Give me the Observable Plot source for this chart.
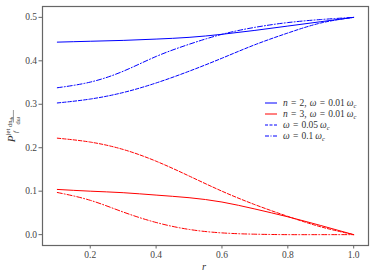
<!DOCTYPE html>
<html><head><meta charset="utf-8">
<script src="https://cdn.jsdelivr.net/npm/d3@7"></script>
<script src="https://cdn.jsdelivr.net/npm/@observablehq/plot@0.6"></script>
<style>body{margin:0;background:#fff} svg text{font-family:'Liberation Serif',Times,serif !important}</style>
</head><body><div id="chart"></div>
<script>
const r = [0.1,0.2,0.3,0.4,0.5,0.6,0.7,0.8,0.9,1.0];
const blueSolid   = [0.443,0.445,0.447,0.450,0.454,0.461,0.470,0.480,0.490,0.500];
const blueDashdot = [0.338,0.351,0.376,0.410,0.438,0.461,0.477,0.488,0.495,0.500];
const blueDashed  = [0.303,0.312,0.327,0.349,0.376,0.406,0.437,0.464,0.487,0.500];
const redSolid    = [0.104,0.100,0.0965,0.091,0.085,0.075,0.059,0.041,0.021,0.000];
const redDashed   = [0.222,0.213,0.196,0.169,0.135,0.100,0.069,0.042,0.018,0.000];
const redDashdot  = [0.097,0.079,0.052,0.028,0.012,0.004,0.001,0.000,0.000,0.000];
const xTicks = [0.2,0.4,0.6,0.8,1.0];
const yTicks = [0.0,0.1,0.2,0.3,0.4,0.5];
const legendLabels = [
  {color:"#0000ff", dash:null, parts:[["n","i"],["\u2004=\u20042,\u2004",""],["ω","i"],["\u2004=\u20040.01\u2009",""],["ω","i"],["c","sub"]]},
  {color:"#ff0000", dash:null, parts:[["n","i"],["\u2004=\u20043,\u2004",""],["ω","i"],["\u2004=\u20040.01\u2009",""],["ω","i"],["c","sub"]]},
  {color:"#0000ff", dash:"3,1.5", parts:[["ω","i"],["\u2004=\u20040.05\u2009",""],["ω","i"],["c","sub"]]},
  {color:"#0000ff", dash:"4,1.5,1,1.5", parts:[["ω","i"],["\u2004=\u20040.1\u2009",""],["ω","i"],["c","sub"]]}
];

const series = [
  {v: blueSolid, c:"#0000ff", d:null},
  {v: blueDashdot, c:"#0000ff", d:"5,2,1,2"},
  {v: blueDashed, c:"#0000ff", d:"3.5,1.8"},
  {v: redSolid, c:"#ff0000", d:null},
  {v: redDashed, c:"#ff0000", d:"3.5,1.8"},
  {v: redDashdot, c:"#ff0000", d:"5,2,1,2"}
];
const font = "'Liberation Serif',Times,serif";
const marks = [
  Plot.frame({stroke:"#666", strokeWidth:1.2}),
  Plot.axisX({ticks:xTicks, tickFormat:d3.format(".1f"), tickSize:3.5, tickPadding:2, label:null, fontSize:9.5, stroke:"#666"}),
  Plot.axisY({ticks:yTicks, tickFormat:d3.format(".1f"), tickSize:3.5, tickPadding:2, label:null, fontSize:9.5, stroke:"#666"})
];
for (const s of series) {
  marks.push(Plot.line(r.map((x,i)=>({x, y:s.v[i]})), {x:"x", y:"y", stroke:s.c, strokeWidth:1, strokeDasharray:s.d, curve:"natural"}));
}
const plot = Plot.plot({
  width:374, height:279,
  marginLeft:42, marginRight:6, marginTop:6, marginBottom:34,
  x:{domain:[0.055,1.045]},
  y:{domain:[-0.025,0.525]},
  style:{fontFamily:font, color:"#444", background:"#fff"},
  marks
});
document.getElementById("chart").appendChild(plot);
const svg = d3.select(plot);
// x label
svg.append("text").attr("x",204).attr("y",270).attr("text-anchor","middle")
  .style("font-style","italic").style("font-size","10.5px").attr("fill","#333").text("r");
// y label
const g = svg.append("g").attr("transform","translate(15,125) rotate(-90)").attr("fill","#333");
g.append("text").attr("x",-14).attr("y",0).style("font-style","italic").style("font-size","11px").text("P");
g.append("text").attr("x",-7).attr("y",2.5).style("font-style","italic").style("font-size","6.5px").text("f");
g.append("text").attr("x",-7).attr("y",-5).style("font-size","6.5px").text("jet");
g.append("text").attr("x",3).attr("y",-3).style("font-size","6.5px").text("dn").append("tspan").style("font-size","4.5px").attr("dy",1).text("th");
g.append("line").attr("x1",2.5).attr("x2",15).attr("y1",-1.6).attr("y2",-1.6).attr("stroke","#333").attr("stroke-width",0.5);
g.append("text").attr("x",4.5).attr("y",4.6).style("font-size","6.5px").text("d").append("tspan").style("font-style","italic").text("ω");
// legend
legendLabels.forEach((L,i)=>{
  const y = 103 + i*11;
  svg.append("line").attr("x1",265).attr("x2",277).attr("y1",y).attr("y2",y)
    .attr("stroke",L.color).attr("stroke-width",1).attr("stroke-dasharray",L.dash);
  const t = svg.append("text").attr("x",283).attr("y",y+3).style("font-size","9.5px").attr("fill","#333")
    .style("white-space","pre").attr("text-anchor","start");
  L.parts.forEach(([s,k])=>{
    const ts = t.append("tspan").text(s);
    if (k==="i") ts.style("font-style","italic");
    if (k==="sub") ts.style("font-style","italic").style("font-size","6.5px").attr("dy",1.5);
  });
});
</script></body></html>
